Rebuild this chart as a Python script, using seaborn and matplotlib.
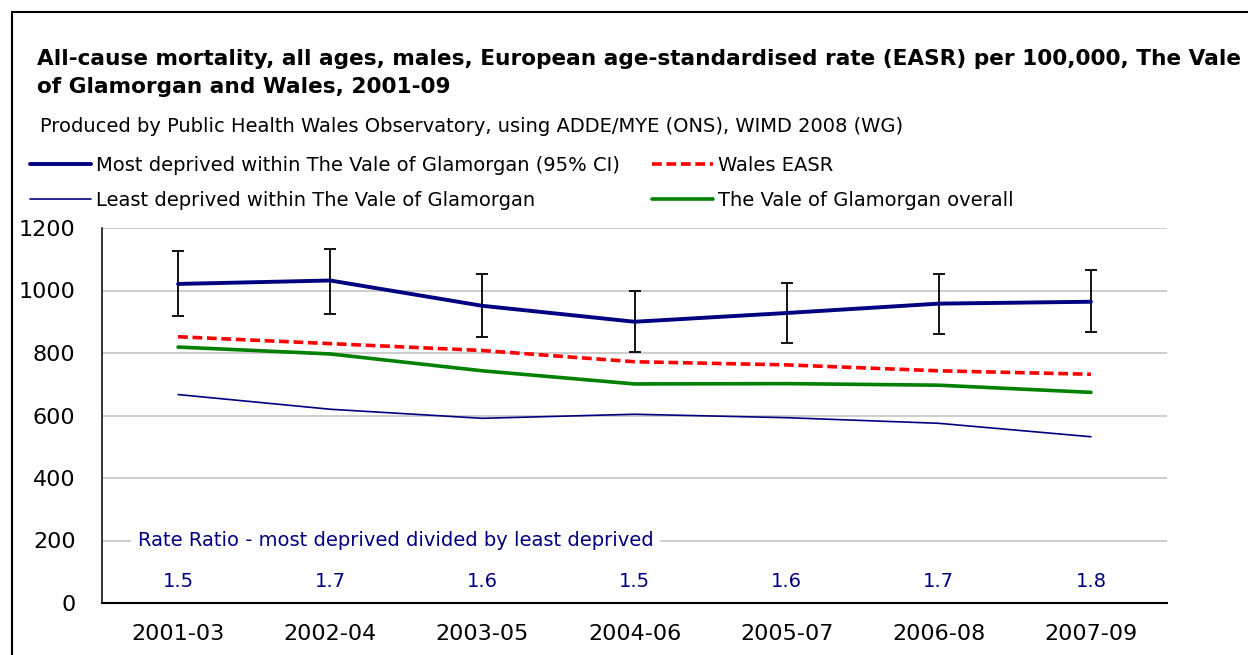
import numpy as np
import pandas as pd
import matplotlib.pyplot as plt
from matplotlib.lines import Line2D
import seaborn as sns

periods = ['2001-03', '2002-04', '2003-05', '2004-06', '2005-07', '2006-08', '2007-09']
most_deprived = [1021, 1032, 951, 900, 928, 958, 964]
most_lower = [919, 926, 851, 804, 833, 862, 868]
most_upper = [1127, 1133, 1053, 999, 1025, 1054, 1065]
least_deprived = [667, 620, 591, 604, 593, 575, 532]
wales_easr = [852, 830, 808, 772, 762, 743, 732]
vale_overall = [819, 797, 743, 701, 702, 697, 674]
rate_ratio = ['1.5', '1.7', '1.6', '1.5', '1.6', '1.7', '1.8']

navy = '#000080'
sns.set_theme(style='white')
plt.rcParams['font.family'] = ['DejaVu Sans']
plt.rcParams['text.color'] = 'black'

fig = plt.figure(figsize=(12.48, 6.55), dpi=100)
ax = fig.add_axes([102 / 1248, 1 - 603 / 655, (1167 - 102) / 1248, (603 - 228) / 655])

# gridlines behind everything
ax.set_axisbelow(True)
ax.yaxis.grid(True, color='#c0c0c0', lw=1.1)

dash = (0, (2.7, 1.3))
sns.lineplot(x=periods, y=least_deprived, color=navy, lw=1.2, ax=ax, sort=False)
sns.lineplot(x=periods, y=vale_overall, color='#008000', lw=2.6, ax=ax, sort=False)
sns.lineplot(x=periods, y=wales_easr, color='#ff0000', lw=2.6, ax=ax, sort=False,
             dashes=False, linestyle=dash)
yerr = [np.array(most_deprived) - np.array(most_lower),
        np.array(most_upper) - np.array(most_deprived)]
ax.errorbar(periods, most_deprived, yerr=yerr, fmt='none', ecolor='black',
            elinewidth=1.3, capsize=4, capthick=1.3, zorder=3)
sns.lineplot(x=periods, y=most_deprived, color=navy, lw=2.8, ax=ax, sort=False, zorder=4)

ax.set_xlim(-0.5, 6.5)
ax.set_ylim(0, 1200)
ax.set_yticks(range(0, 1201, 200))
ax.tick_params(axis='y', length=0, pad=19, labelsize=16, labelcolor='black')
ax.tick_params(axis='x', length=0, pad=15, labelsize=16, labelcolor='black')
for s in ['top', 'right']:
    ax.spines[s].set_visible(False)
ax.spines['left'].set_color('black')
ax.spines['left'].set_linewidth(1.1)
ax.spines['bottom'].set_color('black')
ax.spines['bottom'].set_linewidth(1.5)

# rate ratio annotation
ax.text(-0.265, 200, 'Rate Ratio - most deprived divided by least deprived',
        color=navy, fontsize=14, va='center', ha='left',
        bbox=dict(facecolor='white', edgecolor='none', pad=5))
for i, r in enumerate(rate_ratio):
    ax.text(i, 70, r, color=navy, fontsize=14, ha='center', va='center')

# titles
fig.text(37 / 1248, 1 - 59 / 655,
         'All-cause mortality, all ages, males, European age-standardised rate (EASR) per 100,000, The Vale',
         fontsize=15.6, fontweight='bold', va='center', ha='left')
fig.text(37 / 1248, 1 - 87 / 655, 'of Glamorgan and Wales, 2001-09',
         fontsize=15.6, fontweight='bold', va='center', ha='left')
fig.text(40 / 1248, 1 - 126 / 655,
         'Produced by Public Health Wales Observatory, using ADDE/MYE (ONS), WIMD 2008 (WG)',
         fontsize=14, va='center', ha='left')

handles = [Line2D([], [], color=navy, lw=2.8),
           Line2D([], [], color=navy, lw=1.2),
           Line2D([], [], color='#ff0000', lw=2.6, linestyle=dash),
           Line2D([], [], color='#008000', lw=2.6)]
labels = ['Most deprived within The Vale of Glamorgan (95% CI)',
          'Least deprived within The Vale of Glamorgan',
          'Wales EASR',
          'The Vale of Glamorgan overall']
fig.legend(handles, labels, ncol=2, loc='upper left', bbox_to_anchor=(30 / 1248, 1 - 156 / 655),
           frameon=False, fontsize=14, handlelength=3.15, handletextpad=0.25,
           columnspacing=1.65, labelspacing=0.82, borderpad=0, borderaxespad=0)

# outer frame (left and top edges)
fig.add_artist(Line2D([12 / 1248, 12 / 1248], [0, 1 - 12 / 655], color='black', lw=1.5))
fig.add_artist(Line2D([12 / 1248, 1], [1 - 12 / 655, 1 - 12 / 655], color='black', lw=1.5))

plt.savefig('out.png', dpi=100)
